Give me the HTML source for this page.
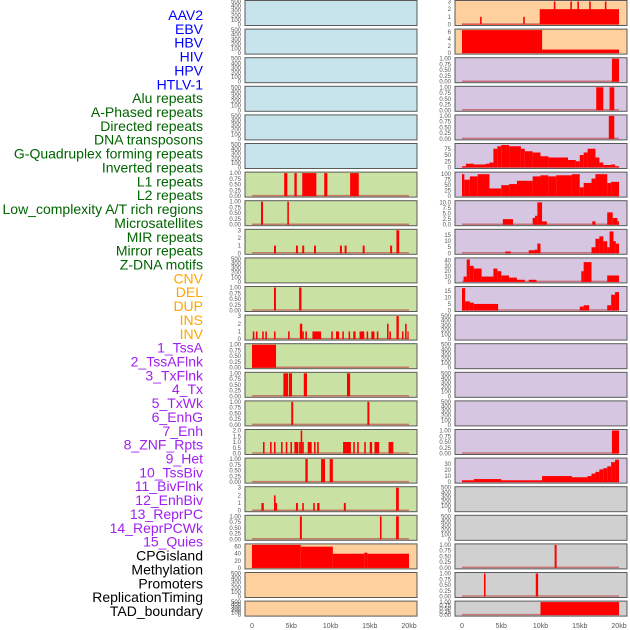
<!DOCTYPE html>
<html><head><meta charset="utf-8"><style>
body{margin:0;background:#fff;width:630px;height:630px;overflow:hidden;font-family:"Liberation Sans",sans-serif}
svg{position:absolute;left:0;top:0}
</style></head><body>
<svg id="chart" width="630" height="630"></svg>
<script>
const trackLabels=["AAV2","EBV","HBV","HIV","HPV","HTLV-1","Alu repeats","A-Phased repeats","Directed repeats","DNA transposons","G-Quadruplex forming repeats","Inverted repeats","L1 repeats","L2 repeats","Low_complexity A/T rich regions","Microsatellites","MIR repeats","Mirror repeats","Z-DNA motifs","CNV","DEL","DUP","INS","INV","1_TssA","2_TssAFlnk","3_TxFlnk","4_Tx","5_TxWk","6_EnhG","7_Enh","8_ZNF_Rpts","9_Het","10_TssBiv","11_BivFlnk","12_EnhBiv","13_ReprPC","14_ReprPCWk","15_Quies","CPGisland","Methylation","Promoters","ReplicationTiming","TAD_boundary"];
const labelGroups=[6,13,5,15,5];
const xTicks=[0,5,10,15,20];
const xTickLabels=["0","5kb","10kb","15kb","20kb"];
const T500=["0","100","200","300","400","500"];
const T1=["0.00","0.25","0.50","0.75","1.00"];
const T3=["0","1","2","3"];
// segments: [startKb, endKb, value]
const L6=[[4.1,4.5,1],[5.4,5.7,1],[6.4,8.2,1],[9.2,9.6,1],[12.5,13.6,1]];
const L7=[[1.15,1.4,1],[4.5,4.7,1]];
const L8=[[2.8,3.05,1],[5.6,5.85,1],[6.4,6.65,1],[7.9,8.15,1],[11.2,11.45,1],[11.8,12.05,1],[14.1,14.35,1],[17.6,17.85,1],[18.4,18.75,3]];
const L10=[[2.8,3.05,1],[6.0,6.3,1]];
const L11=[[0.1,0.3,1],[0.5,0.7,1],[1.3,1.5,1],[1.7,1.9,1],[2.8,3.0,1],[4.6,4.8,1],[6.1,6.4,2],[6.4,6.6,1],[6.8,7.0,1],[7.7,8.8,1],[10.1,10.3,1],[10.7,11.1,1],[11.5,11.7,1],[12.3,12.5,1],[12.9,13.2,1],[13.7,14.3,1],[14.6,14.8,1],[15.2,15.6,1],[15.9,16.1,1],[17.2,17.4,2],[17.5,17.7,1],[18.4,18.7,3],[19.1,19.3,1],[19.5,19.7,2],[19.8,19.9,1]];
const L12=[[0,3.06,1]];
const L13=[[4.0,4.6,1],[4.7,5.1,1],[6.6,7.0,1],[12.1,12.5,1]];
const L14=[[5.0,5.25,1],[14.7,14.95,1]];
const L15=[[1.4,1.6,1],[2.3,2.5,1],[2.8,3.0,1],[3.7,3.9,1],[4.3,4.5,1],[4.9,5.1,1],[5.4,5.9,1],[6.0,6.2,1],[6.2,6.4,2],[6.4,6.6,1],[7.1,7.6,1],[7.9,8.1,1],[8.3,8.5,1],[11.6,12.6,1],[12.9,13.1,1],[13.4,13.6,1],[14.3,14.5,1],[15.0,15.3,1],[15.6,16.2,1],[17.4,18.0,1]];
const L16=[[6.8,7.1,1],[8.8,9.3,1],[9.9,10.3,1]];
const L17=[[1.2,1.5,1],[2.8,3.0,2],[3.0,3.2,1],[5.6,5.85,1],[6.4,6.6,1],[7.8,8.0,1],[8.3,8.6,1],[11.7,11.95,1],[18.35,18.7,3]];
const L18=[[6.1,6.35,1],[16.3,16.5,1],[18.35,18.7,1]];
const L19=[[0,6.2,65],[6.2,10.3,60],[10.3,14.3,40],[14.3,14.7,43],[14.7,20,40]];
const R0=[[0,20,0.05],[2.3,2.5,1],[7.8,8.0,1],[9.9,20,2],[11.7,11.9,3],[13.8,14.0,3],[14.7,14.9,3],[16.2,16.4,3],[18.2,18.4,3]];
const R1=[[0,10.2,6.5],[10.2,20,1]];
const R2=[[19.1,20,1]];
const R3=[[17.1,18,1],[18.8,19.4,1]];
const R4=[[18.7,19.4,1]];
const R5=[[0,0.5,5],[0.5,1.5,15],[1.5,3,12],[3,3.5,15],[3.5,4,20],[4,4.5,75],[4.5,5,85],[5,6,90],[6,7.5,85],[7.5,8,75],[8,9,65],[9,10,60],[10,11,45],[11,13.5,40],[13.5,14.5,30],[14.5,15,25],[15,15.5,50],[15.5,16,60],[16,17,75],[17,17.5,40],[17.5,18,20],[18,19,10],[19,19.5,12],[19.5,20,5]];
const R6=[[0,0.3,100],[0.3,1,75],[1,2,90],[2,3.5,100],[3.5,5,35],[5,6,50],[6,7,55],[7,9,70],[9,10,90],[10,11,95],[11,12,90],[12,14,95],[14,15,100],[15,15.5,40],[15.5,16.5,60],[16.5,17,80],[17,18.5,100],[18.5,19,60],[19,20,65]];
const R7=[[5.2,6.5,2.5],[9.0,9.3,3],[9.3,9.6,4],[9.6,10.2,10],[10.2,10.8,1.5],[16.6,17.0,1.5],[18.5,19.2,5.5],[19.2,19.8,3],[19.8,20,1.5]];
const R8=[[5.5,6.2,1.5],[8.5,9.3,2.5],[9.3,9.6,3],[9.6,10,8],[16.5,17,5],[17,17.5,12],[17.5,18,14],[18,18.5,10],[18.5,18.8,5],[18.8,19.3,18],[19.3,19.6,10],[19.6,20,8]];
const R9=[[0.2,0.6,10],[0.6,1,42],[1,1.5,30],[1.5,2.5,25],[2.5,4,10],[4,4.5,25],[4.5,5,20],[5,6,12],[6,7,8],[7,8,4],[8.5,9.5,4],[15.2,15.5,20],[15.5,16.5,37],[18.5,20,12]];
const R10=[[0,0.4,17],[0.4,1,7],[1,1.5,6],[1.5,4.6,5],[15,15.5,3],[15.5,16.2,4],[18.5,19,4],[19,19.5,12],[19.5,20,14]];
const R15=[[19.1,20,1]];
const R16=[[0,1.5,3],[1.5,5,5],[5,10.2,3],[10.2,14,10],[14,16,8],[16,16.5,10],[16.5,17,14],[17,17.5,17],[17.5,18,21],[18,18.5,23],[18.5,19,26],[19,19.5,33],[19.5,20,37]];
const R19=[[11.8,12.05,1]];
const R20=[[2.8,3.0,1],[9.4,9.7,1]];
const R21=[[10,20,1]];
const BLUE="#c7e4ec",GREEN="#c9e1a3",PEACH="#fed09e",PURP="#d6c6e2",GRAY="#d0d0d0";
// [col,row,bg,ymax,tickLabels,segments,name]
const panels=[
[0,0,BLUE,500,T500,null,"aav2"],[0,1,BLUE,500,T500,null,"ebv"],[0,2,BLUE,500,T500,null,"hbv"],[0,3,BLUE,500,T500,null,"hiv"],[0,4,BLUE,500,T500,null,"hpv"],[0,5,BLUE,500,T500,null,"htlv1"],
[0,6,GREEN,1,T1,L6,"alu"],[0,7,GREEN,1,T1,L7,"a-phased"],[0,8,GREEN,3,T3,L8,"directed"],[0,9,GREEN,500,T500,null,"dna-transposons"],[0,10,GREEN,1,T1,L10,"g-quad"],[0,11,GREEN,3,T3,L11,"inverted"],
[0,12,GREEN,1,T1,L12,"l1"],[0,13,GREEN,1,T1,L13,"l2"],[0,14,GREEN,1,T1,L14,"low-complexity"],[0,15,GREEN,2,["0.0","0.5","1.0","1.5","2.0"],L15,"microsatellites"],[0,16,GREEN,1,T1,L16,"mir"],[0,17,GREEN,3,T3,L17,"mirror"],[0,18,GREEN,1,T1,L18,"z-dna"],
[0,19,PEACH,65,["0","20","40","60"],L19,"cnv"],[0,20,PEACH,500,T500,null,"del"],[0,21,PEACH,500,T500,null,"dup"],
[1,0,PEACH,3,T3,R0,"ins"],[1,1,PEACH,6.5,["0","2","4","6"],R1,"inv"],[1,2,PURP,1,T1,R2,"tssa"],[1,3,PURP,1,T1,R3,"tssaflnk"],[1,4,PURP,1,T1,R4,"txflnk"],
[1,5,PURP,92,["0","25","50","75"],R5,"tx"],[1,6,PURP,105,["0","25","50","75","100"],R6,"txwk"],[1,7,PURP,10.3,["0.0","2.5","5.0","7.5","10.0"],R7,"enhg"],[1,8,PURP,19,["0","5","10","15"],R8,"enh"],
[1,9,PURP,43,["0","10","20","30","40"],R9,"znf"],[1,10,PURP,17.5,["0","5","10","15"],R10,"het"],[1,11,PURP,500,T500,null,"tssbiv"],[1,12,PURP,500,T500,null,"bivflnk"],[1,13,PURP,500,T500,null,"enhbiv"],[1,14,PURP,500,T500,null,"reprpc"],
[1,15,PURP,1,T1,R15,"reprpcwk"],[1,16,PURP,38,["0","10","20","30"],R16,"quies"],[1,17,GRAY,500,T500,null,"cpgisland"],[1,18,GRAY,500,T500,null,"methylation"],[1,19,GRAY,1,T1,R19,"promoters"],[1,20,GRAY,1,T1,R20,"replication-timing"],[1,21,GRAY,1,T1,R21,"tad-boundary"]
];
const NS="http://www.w3.org/2000/svg";
const svg=document.getElementById("chart");
function mk(tag,attrs,parent){const e=document.createElementNS(NS,tag);for(const k in attrs)e.setAttribute(k,attrs[k]);(parent||svg).appendChild(e);return e;}
const colX=[245,455],PW=172;
function rowTop(r){return r*28.6+0.5;}
function rowH(r){return r===21?15:25;}
function xs(col,kb){return colX[col]+7+kb*7.85;}
// labels
const groupColors=["#0000ff","#006400","#ffa500","#a020f0","#000000"];
let li=0;
labelGroups.forEach((n,g)=>{for(let k=0;k<n;k++){const t=mk("text",{x:203,y:15+li*13.86+5,"text-anchor":"end","font-size":"14",fill:groupColors[g]});


t.textContent=trackLabels[li];li++;}});
panels.forEach(p=>{
  const [col,row,bg,ymax,ticks,segs,name]=p;
  const top=rowTop(row),h=rowH(row),x0=colX[col];
  const g=mk("g",{});
  
  
  mk("rect",{x:x0,y:top,width:PW,height:h,fill:bg,stroke:"#5a5a5a","stroke-width":1},g);
  const base=top+h-1,span=h-2;
  const ys=v=>base-v/ymax*span;
  ticks.forEach(tl=>{const v=parseFloat(tl);const t=mk("text",{x:x0-4,y:ys(v)+2,"text-anchor":"end","font-size":"6",fill:"#555"},g);
    
    
    t.textContent=tl;});
  if(segs){
    const bl=mk("line",{x1:xs(col,0),x2:xs(col,20),y1:base-0.5,y2:base-0.5,stroke:"#c05050","stroke-width":1.5,opacity:0.7},g);
    
    
    segs.forEach(s=>{const xa=xs(col,s[0]),xb=xs(col,s[1]);const y=ys(Math.min(s[2],ymax*1.02));
      const r=mk("rect",{x:xa,y:Math.max(y,top+0.5),width:Math.max(xb-xa,1.2),height:base-Math.max(y,top+0.5),fill:"#ff0000"},g);
      
      });
  }
});
[0,1].forEach(col=>{xTicks.forEach((k,i)=>{const t=mk("text",{x:xs(col,k),y:628,"text-anchor":"middle","font-size":"7",fill:"#555"});
  
  
  t.textContent=xTickLabels[i];});});
</script>
</body></html>
